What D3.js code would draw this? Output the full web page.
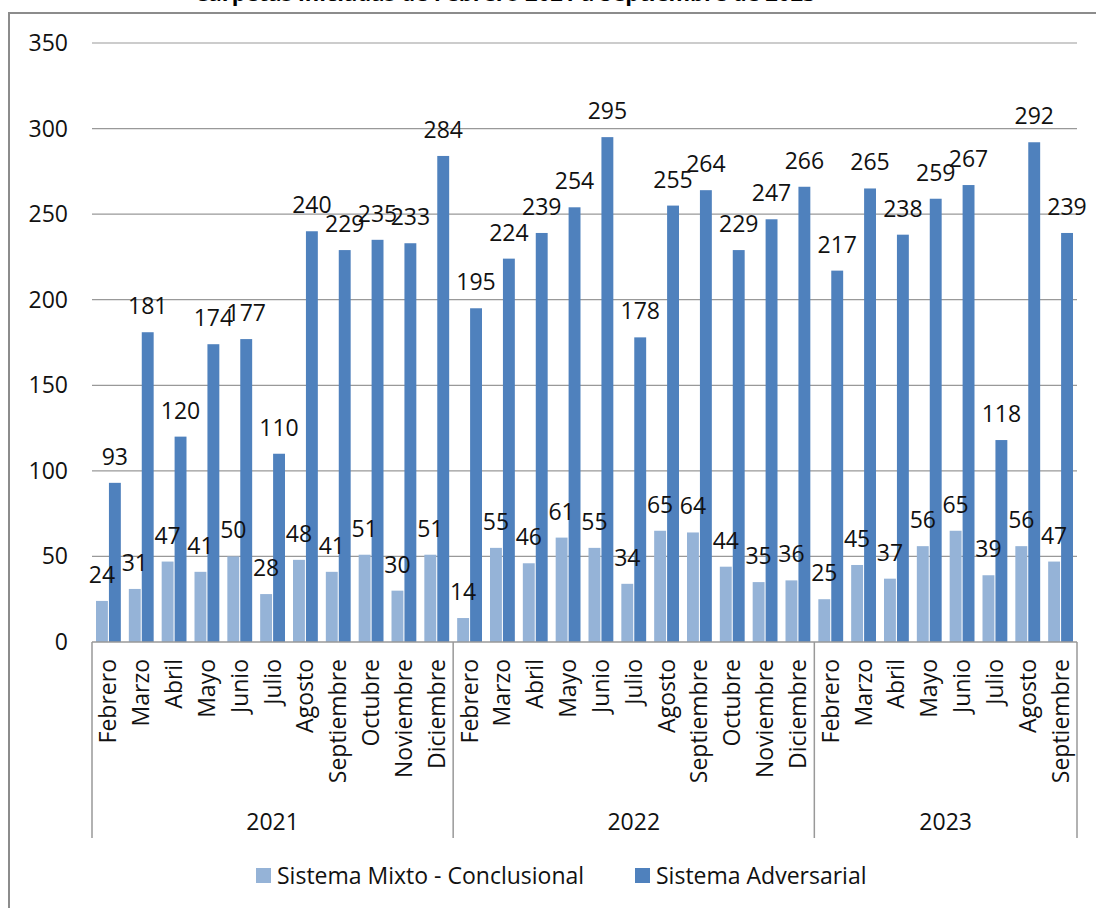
<!DOCTYPE html>
<html>
<head>
<meta charset="utf-8">
<script src="https://cdn.jsdelivr.net/npm/d3@7"></script>
<style>
  body { margin: 0; background: #fff; }
  svg { display: block; font-family: "Open Sans", sans-serif; }
</style>
</head>
<body>
<div id="chart"></div>
<script>
// data
const years = ["2021", "2022", "2023"]
const months = [
  ["Febrero", "Marzo", "Abril", "Mayo", "Junio", "Julio", "Agosto", "Septiembre", "Octubre", "Noviembre", "Diciembre"],
  ["Febrero", "Marzo", "Abril", "Mayo", "Junio", "Julio", "Agosto", "Septiembre", "Octubre", "Noviembre", "Diciembre"],
  ["Febrero", "Marzo", "Abril", "Mayo", "Junio", "Julio", "Agosto", "Septiembre"]
]
const mixto = [24, 31, 47, 41, 50, 28, 48, 41, 51, 30, 51,
  14, 55, 46, 61, 55, 34, 65, 64, 44, 35, 36,
  25, 45, 37, 56, 65, 39, 56, 47]
const adversarial = [93, 181, 120, 174, 177, 110, 240, 229, 235, 233, 284,
  195, 224, 239, 254, 295, 178, 255, 264, 229, 247, 266,
  217, 265, 238, 259, 267, 118, 292, 239]
const seriesNames = ["Sistema Mixto - Conclusional", "Sistema Adversarial"]
const colors = ["#95b3d7", "#4f81bd"]
const yTicks = [0, 50, 100, 150, 200, 250, 300, 350]

const W = 1096, H = 908
const plotLeft = 92, plotRight = 1077, plotTop = 43, plotBottom = 642
const fs = 23

const cats = []
years.forEach((yr, yi) => months[yi].forEach(m => cats.push({ key: yr + "-" + m, year: yr, month: m })))
cats.forEach((c, i) => { c.values = [mixto[i], adversarial[i]] })

const x = d3.scaleBand().domain(cats.map(c => c.key)).range([plotLeft, plotRight])
const xs = d3.scaleBand().domain([0, 1]).range([4, x.bandwidth() - 4]).paddingInner(0.08)
const y = d3.scaleLinear().domain([0, 350]).range([plotBottom, plotTop])

const svg = d3.select("#chart").append("svg")
  .attr("width", W).attr("height", H)

// chart title (mostly cut off at the top edge)
svg.append("text")
  .attr("x", 505).attr("y", 1)
  .attr("text-anchor", "middle")
  .attr("font-weight", "bold")
  .attr("font-size", 22)
  .text("Carpetas iniciadas de Febrero 2021 a Septiembre de 2023")

// outer frame
svg.append("rect")
  .attr("x", 9).attr("y", 13)
  .attr("width", 1200).attr("height", 1000)
  .attr("fill", "none")
  .attr("stroke", "#8c8c8c")
  .attr("stroke-width", 2)

// gridlines + y labels
svg.append("g")
  .selectAll("line")
  .data(yTicks.slice(1))
  .join("line")
  .attr("x1", plotLeft).attr("x2", plotRight)
  .attr("y1", d => y(d)).attr("y2", d => y(d))
  .attr("stroke", "#999")
  .attr("stroke-width", 1.2)

svg.append("g")
  .attr("font-size", fs)
  .attr("text-anchor", "end")
  .attr("fill", "#111")
  .selectAll("text")
  .data(yTicks)
  .join("text")
  .attr("x", 68)
  .attr("y", d => y(d))
  .attr("dy", "0.35em")
  .text(d => d)

// bars
const groups = svg.append("g")
  .selectAll("g")
  .data(cats)
  .join("g")
  .attr("transform", d => `translate(${x(d.key)},0)`)

groups.selectAll("rect")
  .data(d => d.values)
  .join("rect")
  .attr("x", (d, i) => xs(i))
  .attr("width", xs.bandwidth())
  .attr("y", d => y(d))
  .attr("height", d => y(0) - y(d))
  .attr("fill", (d, i) => colors[i])

groups.selectAll("text")
  .data(d => d.values)
  .join("text")
  .attr("x", (d, i) => xs(i) + xs.bandwidth() / 2)
  .attr("y", d => y(d) - 18)
  .attr("text-anchor", "middle")
  .attr("font-size", fs)
  .attr("fill", "#111")
  .text(d => d)

// category axis
svg.append("line")
  .attr("x1", plotLeft).attr("x2", plotRight)
  .attr("y1", plotBottom).attr("y2", plotBottom)
  .attr("stroke", "#999").attr("stroke-width", 1.5)

svg.append("g")
  .attr("font-size", fs)
  .attr("fill", "#111")
  .attr("text-anchor", "end")
  .selectAll("text")
  .data(cats)
  .join("text")
  .attr("transform", d => `translate(${x(d.key) + x.bandwidth() / 2},659) rotate(-90)`)
  .attr("dy", "0.35em")
  .text(d => d.month)

// year groups
let start = 0
const yearSpans = years.map((yr, i) => {
  const s = { year: yr, x0: x(cats[start].key), x1: x(cats[start + months[i].length - 1].key) + x.bandwidth() }
  start += months[i].length
  return s
})

svg.append("g")
  .selectAll("line")
  .data([yearSpans[0].x0, ...yearSpans.map(s => s.x1)])
  .join("line")
  .attr("x1", d => d).attr("x2", d => d)
  .attr("y1", plotBottom).attr("y2", 838)
  .attr("stroke", "#999").attr("stroke-width", 1.5)

svg.append("g")
  .attr("font-size", fs)
  .attr("fill", "#111")
  .attr("text-anchor", "middle")
  .selectAll("text")
  .data(yearSpans)
  .join("text")
  .attr("x", d => (d.x0 + d.x1) / 2)
  .attr("y", 822)
  .attr("dy", "0.35em")
  .text(d => d.year)

// legend
const legendX = [256, 635]
const legend = svg.append("g")
  .selectAll("g")
  .data(seriesNames)
  .join("g")
  .attr("transform", (d, i) => `translate(${legendX[i]},868)`)

legend.append("rect")
  .attr("width", 15).attr("height", 15)
  .attr("fill", (d, i) => colors[i])

legend.append("text")
  .attr("x", 21).attr("y", 7.5)
  .attr("dy", "0.35em")
  .attr("font-size", fs)
  .attr("fill", "#111")
  .text(d => d)
</script>
</body>
</html>
